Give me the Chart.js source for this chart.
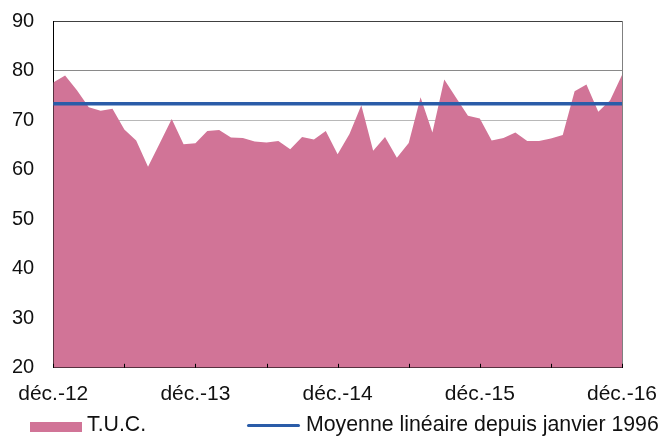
<!DOCTYPE html>
<html>
<head>
<meta charset="utf-8">
<script src="https://cdn.jsdelivr.net/npm/chart.js@4/dist/chart.umd.min.js"></script>
<style>
  body { margin: 0; background: #fff; }
  #wrap { position: relative; width: 661px; height: 436px; }
  .leg { position: absolute; font: 21.3px "Liberation Sans", Arial, sans-serif; color: #111; line-height: 21px; white-space: nowrap; }
  .sw { position: absolute; }
</style>
</head>
<body>
<div id="wrap">
  <canvas id="c" width="661" height="436"></canvas>
  <div class="sw" style="left:30px;top:422px;width:52px;height:10px;background:#D17497"></div>
  <div class="leg" style="left:87px;top:414px">T.U.C.</div>
  <div class="sw" style="left:247px;top:424px;width:53px;height:3px;background:#2A5CA8;border-radius:2px"></div>
  <div class="leg" style="left:306px;top:414px">Moyenne linéaire depuis janvier 1996</div>
</div>
<script>
// mois de déc. 2012 à déc. 2016
const mois = [
  'déc.-12',
  'janv.-13','févr.-13','mars-13','avr.-13','mai-13','juin-13','juil.-13','août-13','sept.-13','oct.-13','nov.-13','déc.-13',
  'janv.-14','févr.-14','mars-14','avr.-14','mai-14','juin-14','juil.-14','août-14','sept.-14','oct.-14','nov.-14','déc.-14',
  'janv.-15','févr.-15','mars-15','avr.-15','mai-15','juin-15','juil.-15','août-15','sept.-15','oct.-15','nov.-15','déc.-15',
  'janv.-16','févr.-16','mars-16','avr.-16','mai-16','juin-16','juil.-16','août-16','sept.-16','oct.-16','nov.-16','déc.-16'
];

// T.U.C. (%)
const tuc = [
  77.6,
  79.0, 76.0, 72.6, 71.9, 72.3, 68.1, 65.9, 60.6, 65.4, 70.2, 65.1, 65.3,
  67.8, 68.0, 66.5, 66.4, 65.7, 65.5, 65.8, 64.1, 66.6, 66.1, 67.8, 63.1,
  67.2, 73.0, 63.8, 66.6, 62.4, 65.4, 74.6, 67.5, 78.2, 74.5, 70.9, 70.3,
  65.9, 66.4, 67.5, 65.8, 65.8, 66.3, 67.0, 75.8, 77.2, 71.7, 74.0, 79.1
];

// moyenne depuis janvier 1996
const moyenne = 73.3;

const yMin = 20, yMax = 90, yStep = 10;

// petites graduations vers l'intérieur, tous les 6 mois
const innerTicks = {
  id: 'innerTicks',
  afterDatasetsDraw(chart) {
    const sx = chart.scales.x;
    const c = chart.ctx;
    const y0 = chart.chartArea.bottom;
    c.save();
    c.strokeStyle = '#000';
    c.lineWidth = 1;
    c.beginPath();
    sx.ticks.forEach((t, i) => {
      if (i % 6 !== 0) return;
      const px = Math.round(sx.getPixelForTick(i)) + 0.5;
      c.moveTo(px, y0);
      c.lineTo(px, y0 - 4);
    });
    c.stroke();
    c.restore();
  }
};

const ctx = document.getElementById('c');
new Chart(ctx, {
  type: 'line',
  data: {
    labels: mois,
    datasets: [
      {
        label: 'Moyenne linéaire depuis janvier 1996',
        data: mois.map(() => moyenne),
        borderColor: '#2A5CA8',
        borderWidth: 3.5,
        pointRadius: 0,
        fill: false,
        order: 0
      },
      {
        label: 'T.U.C.',
        data: tuc,
        backgroundColor: '#D17497',
        borderWidth: 0,
        pointRadius: 0,
        fill: 'start',
        tension: 0,
        order: 1
      }
    ]
  },
  options: {
    responsive: false,
    animation: false,
    devicePixelRatio: 1,
    layout: { padding: { left: 12, right: 39, top: 21, bottom: 29 } },
    plugins: { legend: { display: false }, tooltip: { enabled: false } },
    scales: {
      x: {
        offset: false,
        grid: {
          drawOnChartArea: true,
          color: (c) => c.index === mois.length - 1 ? '#808080' : 'rgba(0,0,0,0)',
          tickColor: 'rgba(0,0,0,0)',
          tickLength: 14,
          lineWidth: 1
        },
        border: { display: true, color: '#000', width: 1 },
        ticks: {
          autoSkip: false,
          maxRotation: 0,
          padding: 0,
          color: '#111',
          font: { family: 'Liberation Sans, Arial, sans-serif', size: 21 },
          callback: function (v, i) { return i % 12 === 0 ? this.getLabelForValue(v) : ''; }
        }
      },
      y: {
        min: yMin,
        max: yMax,
        grid: {
          drawTicks: true,
          tickLength: 19,
          tickColor: 'rgba(0,0,0,0)',
          color: (c) => c.tick.value === 90 ? '#404040' : c.tick.value === 80 ? '#8a8a8a' : '#b8b8b8',
          lineWidth: 1
        },
        border: { display: true, color: '#000', width: 1 },
        ticks: {
          stepSize: yStep,
          padding: 0,
          color: '#111',
          font: { family: 'Liberation Sans, Arial, sans-serif', size: 20 }
        }
      }
    }
  },
  plugins: [innerTicks]
});
</script>
</body>
</html>
